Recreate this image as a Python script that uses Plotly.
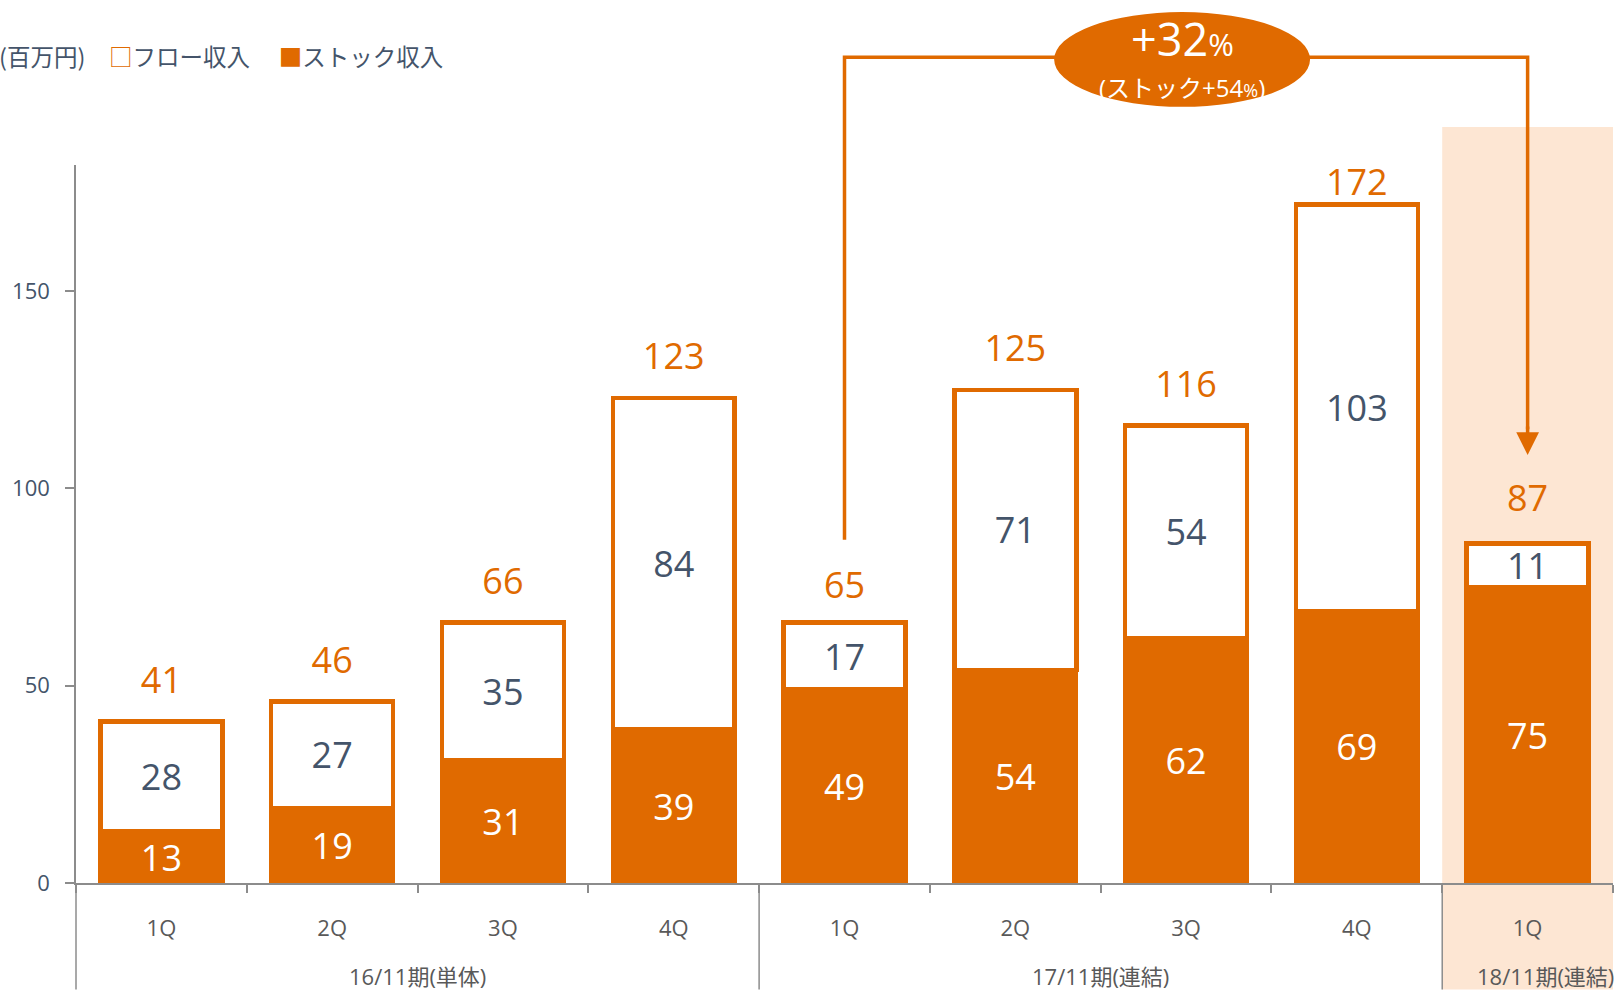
import plotly.graph_objects as go

# ---- data ----
group_names = ["16/11期(単体)", "17/11期(連結)", "18/11期(連結)"]
group_sizes = [4, 4, 1]
quarters = ["1Q", "2Q", "3Q", "4Q", "1Q", "2Q", "3Q", "4Q", "1Q"]
stock = [13, 19, 31, 39, 49, 54, 62, 69, 75]
flow = [28, 27, 35, 84, 17, 71, 54, 103, 11]
totals = [41, 46, 66, 123, 65, 125, 116, 172, 87]
y_ticks = [0, 50, 100, 150]
growth_label = "+32"
stock_growth_label = "(ストック+54"

ORANGE = "#E06A00"
DARK = "#44546A"
GRAY = "#8C8C8C"
FONT = "Open Sans, Noto Sans CJK JP, sans-serif"
Y_MAX = 182
N = len(quarters)
xi = list(range(N))
# spacing of the total labels above the bars (the tallest one sits closer)
label_pad = [30, 30, 30, 30, 30, 30, 30, 0, 30]

fig = go.Figure()
fig.add_trace(go.Bar(
    x=xi, y=stock, name="ストック収入", width=0.74,
    marker=dict(color=ORANGE, line=dict(width=0)),
    text=[str(v) for v in stock], textposition="inside", insidetextanchor="middle",
    textangle=0, textfont=dict(color="white", size=36, family=FONT),
))
fig.add_trace(go.Bar(
    x=xi, y=flow, name="フロー収入", width=0.714,
    marker=dict(color="white", line=dict(color=ORANGE, width=4.5)),
    text=[str(v) for v in flow], textposition="inside", insidetextanchor="middle",
    textangle=0, textfont=dict(color=DARK, size=36, family=FONT),
))
fig.add_trace(go.Scatter(
    x=xi, y=totals, mode="markers+text", text=[str(v) for v in totals],
    textposition="top center", marker=dict(size=label_pad, opacity=0),
    textfont=dict(color=ORANGE, size=36, family=FONT), hoverinfo="skip",
    cliponaxis=False,
))

PLOT_H = 718.4
BOTTOM = -106.6 / PLOT_H


def py(v):
    return v / Y_MAX


def cx(i):
    return (i + 0.5) / N


shapes = []
# shaded band for 18/11
shapes.append(dict(type="rect", xref="paper", yref="paper",
                   x0=(N - 1) / N, x1=1, y0=BOTTOM, y1=1.053,
                   fillcolor="#FDE6D3", line=dict(width=0), layer="below"))
# group dividers (and y-axis extension)
start = 0
bounds = [0]
for s in group_sizes[:-1]:
    start += s
    bounds.append(start)
for b in bounds:
    shapes.append(dict(type="line", xref="paper", yref="paper",
                       x0=b / N, x1=b / N, y0=0, y1=BOTTOM,
                       line=dict(color=GRAY, width=1.5)))
# bracket line
top_y = 1.150
left_i, right_i = 4, 8
path = (f"M {cx(left_i)},{py(totals[left_i] + 22)} L {cx(left_i)},{top_y} "
        f"L {cx(right_i)},{top_y} L {cx(right_i)},{py(totals[right_i] + 28)}")
shapes.append(dict(type="path", xref="paper", yref="paper", path=path,
                   line=dict(color=ORANGE, width=3.5)))
# ellipse
shapes.append(dict(type="circle", xref="paper", yref="paper",
                   x0=0.6364, x1=0.8029, y0=1.081, y1=1.213,
                   fillcolor=ORANGE, line=dict(width=0)))

annotations = []
# arrow head
annotations.append(dict(xref="paper", yref="paper", x=cx(right_i), y=py(totals[right_i] + 21.5),
                        ax=0, ay=-30, text="", showarrow=True, arrowhead=2,
                        arrowsize=1.3, arrowwidth=3.5, arrowcolor=ORANGE))
# ellipse text
ecx = (0.6364 + 0.8029) / 2
annotations.append(dict(xref="paper", yref="paper", x=ecx, y=1.1761,
                        xanchor="center", yanchor="middle", showarrow=False,
                        text=(f"{growth_label}<span style='font-size:31px'>%</span>"),
                        font=dict(color="white", family=FONT, size=45)))
annotations.append(dict(xref="paper", yref="paper", x=ecx, y=1.1086,
                        xanchor="center", yanchor="middle", showarrow=False,
                        text=(f"{stock_growth_label}<span style='font-size:18px'>%</span>)"),
                        font=dict(color="white", family=FONT, size=24)))
# legend text
annotations.append(dict(xref="paper", yref="paper", x=-75.5 / 1537.5 - 0.002, y=1.152,
                        xanchor="left", yanchor="middle", showarrow=False,
                        text=(f"(百万円)　<span style='color:{ORANGE}'>□</span>フロー収入　 "
                              f"<span style='color:{ORANGE}'>■</span>ストック収入"),
                        font=dict(color=DARK, family="Noto Sans CJK JP", size=23.5)))
# group labels
start = 0
for name, s in zip(group_names, group_sizes):
    center = (start + s / 2) / N
    annotations.append(dict(xref="paper", yref="paper", x=center, y=-0.130,
                            xanchor="center", yanchor="middle", showarrow=False,
                            xshift=18 if s == 1 else 0,
                            text=name, font=dict(color="#595959", size=22, family=FONT)))
    start += s

fig.update_layout(
    width=1620, height=990,
    margin=dict(l=75.5, r=7, t=165, b=106.6),
    barmode="stack",
    showlegend=False,
    plot_bgcolor="rgba(0,0,0,0)", paper_bgcolor="white",
    shapes=shapes, annotations=annotations,
    uniformtext=dict(mode="show", minsize=36),
    font=dict(family=FONT),
)
fig.update_xaxes(
    range=[-0.5, N - 0.5], tickvals=xi, ticktext=quarters,
    showline=True, linecolor=GRAY, linewidth=1.5,
    ticks="", ticklabelstandoff=25, automargin=False,
    minor=dict(tickvals=[i - 0.5 for i in range(N + 1)], ticks="outside",
               ticklen=8, tickcolor=GRAY, tickwidth=1.5, showgrid=False),
    showgrid=False, zeroline=False,
    tickfont=dict(color="#595959", size=22, family=FONT),
)
fig.update_yaxes(
    range=[0, Y_MAX], tickvals=y_ticks, showline=True, linecolor=GRAY, linewidth=1.5,
    ticks="outside", ticklen=9, tickcolor=GRAY, tickwidth=1.5, showgrid=False, zeroline=False,
    ticklabelstandoff=11, automargin=False,
    tickfont=dict(color=DARK, size=22, family=FONT),
)

fig.write_html("out.html", config={"displayModeBar": False},
               post_script="document.body.style.margin='0';document.body.style.overflow='hidden';")
